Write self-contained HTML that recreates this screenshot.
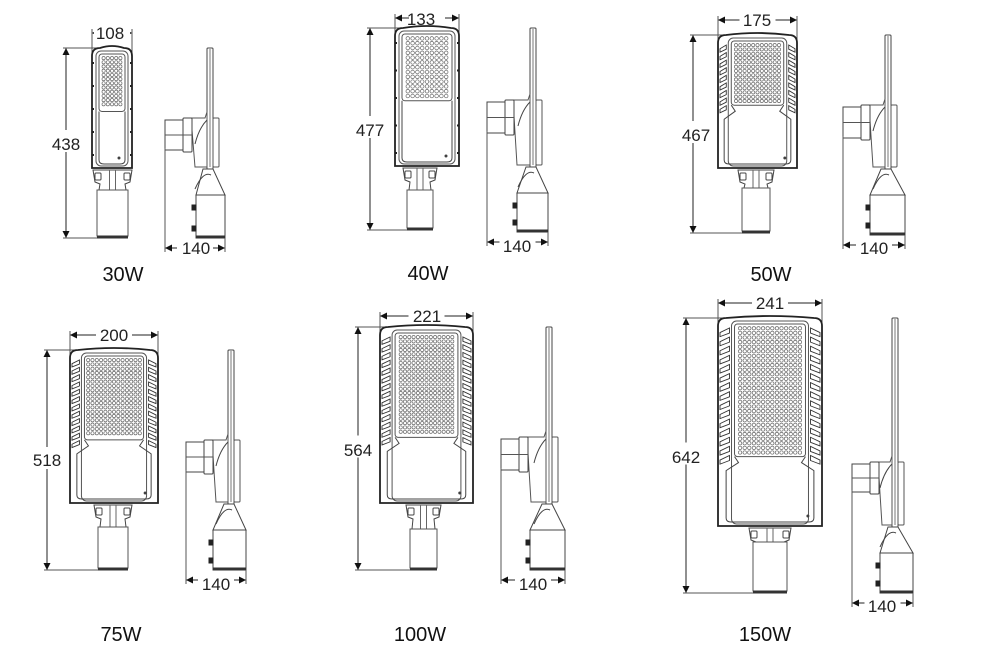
<!DOCTYPE html>
<html><head><meta charset="utf-8"><style>
html,body{margin:0;padding:0;background:#fff}
svg{display:block}
.d{font-family:"Liberation Sans",sans-serif;font-size:17px;fill:#222}
.c{font-family:"Liberation Sans",sans-serif;font-size:20px;fill:#111}
</style></head><body>
<svg id="s" width="991" height="655" viewBox="0 0 991 655" xmlns="http://www.w3.org/2000/svg">
<defs>
<marker id="a" viewBox="0 0 10 10" refX="10" refY="5" markerWidth="12" markerHeight="7" markerUnits="userSpaceOnUse" orient="auto-start-reverse"><path d="M0,0L10,5L0,10z" fill="#111"/></marker>
</defs>
<g id="g" fill="none" stroke="#444" stroke-width="1"></g>
<text class="d" x="110" y="39" text-anchor="middle">108</text>
<text class="d" x="66" y="150" text-anchor="middle">438</text>
<text class="d" x="196" y="254" text-anchor="middle">140</text>
<text class="c" x="123" y="281" text-anchor="middle">30W</text>
<text class="d" x="421" y="25" text-anchor="middle">133</text>
<text class="d" x="370" y="136" text-anchor="middle">477</text>
<text class="d" x="517" y="252" text-anchor="middle">140</text>
<text class="c" x="428" y="280" text-anchor="middle">40W</text>
<text class="d" x="757" y="26" text-anchor="middle">175</text>
<text class="d" x="696" y="141" text-anchor="middle">467</text>
<text class="d" x="874" y="254" text-anchor="middle">140</text>
<text class="c" x="771" y="281" text-anchor="middle">50W</text>
<text class="d" x="114" y="341" text-anchor="middle">200</text>
<text class="d" x="47" y="466" text-anchor="middle">518</text>
<text class="d" x="216" y="590" text-anchor="middle">140</text>
<text class="c" x="121" y="641" text-anchor="middle">75W</text>
<text class="d" x="427" y="322" text-anchor="middle">221</text>
<text class="d" x="358" y="456" text-anchor="middle">564</text>
<text class="d" x="533" y="590" text-anchor="middle">140</text>
<text class="c" x="420" y="641" text-anchor="middle">100W</text>
<text class="d" x="770" y="309" text-anchor="middle">241</text>
<text class="d" x="686" y="463" text-anchor="middle">642</text>
<text class="d" x="882" y="612" text-anchor="middle">140</text>
<text class="c" x="765" y="641" text-anchor="middle">150W</text>
</svg>
<script>
var g=document.getElementById('g'),h='';
function L(x1,y1,x2,y2,c,w){h+='<line x1="'+x1+'" y1="'+y1+'" x2="'+x2+'" y2="'+y2+'" stroke="'+(c||'#444')+'" stroke-width="'+(w||1)+'"/>';}
function R(x,y,w,hh,r,c,f){h+='<rect x="'+x+'" y="'+y+'" width="'+w+'" height="'+hh+'" rx="'+(r||0)+'" stroke="'+(c||'#444')+'" fill="'+(f||'none')+'"/>';}
function A(x1,y1,x2,y2){h+='<line x1="'+x1+'" y1="'+y1+'" x2="'+x2+'" y2="'+y2+'" stroke="#222" marker-start="url(#a)" marker-end="url(#a)"/>';}
function unit(o){
 var x0=o.x0,x1=o.x1,t=o.t,b=o.b,w=x1-x0;
 A(x0,o.wy,x1,o.wy); L(x0,o.wy-4,x0,t+10,'#555'); L(x1,o.wy-4,x1,t+10,'#555');
 A(o.hx,t,o.hx,o.pb); L(o.hx-3,t,x0+w/2,t,'#555'); L(o.hx-3,o.pb,o.p0,o.pb,'#555');
 h+='<rect x="'+(x0+w/2-18)+'" y="'+(o.wy-9)+'" width="36" height="18" fill="#fff" stroke="none"/>';
 h+='<rect x="'+(o.hx-18)+'" y="'+((t+o.pb)/2-13)+'" width="36" height="22" fill="#fff" stroke="none"/>';
 h+='<path d="M'+x0+','+(b-2)+' L'+x0+','+(t+8)+' Q'+x0+','+t+' '+(x0+8)+','+t+' Q'+(x0+w/2)+','+(t-4)+' '+(x1-8)+','+t+' Q'+x1+','+t+' '+x1+','+(t+8)+' L'+x1+','+(b-2)+' Z" stroke="#222" stroke-width="1.8" fill="#fff"/>';
 var fi=o.fin?Math.max(9,w*0.13):4;
 var lx0=x0+fi+3,lx1=x1-fi-3,ly0=t+6,ly1=t+(b-t)*o.led;
 R(x0+fi,t+3,w-2*fi,b-t-7,5,'#555');
 R(lx0,ly0,lx1-lx0,ly1-ly0,3,'#555');
 var st=o.ds||4.2,cols=Math.floor((lx1-lx0-3)/st),rows=Math.floor((ly1-ly0-3)/st);
 var ox=lx0+((lx1-lx0)-cols*st)/2+st/2,oy=ly0+2+st/2;
 for(var i=0;i<cols;i++)for(var j=0;j<rows;j++)h+='<circle cx="'+(ox+i*st).toFixed(1)+'" cy="'+(oy+j*st).toFixed(1)+'" r="'+(st*0.38).toFixed(1)+'" stroke="#666" stroke-width="0.7"/>';
 var dx0=o.fin?x0+fi*0.6:lx0,dx1=o.fin?x1-fi*0.6:lx1;
 h+='<path d="M'+lx0+','+ly1+' L'+(lx0+(o.fin?4:0))+','+(ly1+(o.fin?6:0))+' L'+dx0+','+(ly1+(o.fin?14:2))+' L'+dx0+','+(b-10)+' Q'+dx0+','+(b-6)+' '+(dx0+5)+','+(b-6)+' L'+(dx1-5)+','+(b-6)+' Q'+dx1+','+(b-6)+' '+dx1+','+(b-10)+' L'+dx1+','+(ly1+(o.fin?14:2))+' L'+(lx1-(o.fin?4:0))+','+(ly1+(o.fin?6:0))+' L'+lx1+','+ly1+'" stroke="#444"/>';
 h+='<circle cx="'+(dx1-6)+'" cy="'+(b-12)+'" r="1" fill="#333"/>';
 if(o.fin){var n=o.fin,fy0=t+10,fy1=ly1+8,sp=(fy1-fy0)/n;
  for(var k=0;k<n;k++){var y=fy0+k*sp;
   h+='<path d="M'+(x0+2)+','+(y+sp*0.5)+' L'+(x0+fi-2)+','+(y)+' L'+(x0+fi-2)+','+(y+sp*0.55)+' L'+(x0+2)+','+(y+sp*0.95)+'Z" stroke="#333" stroke-width="0.9"/>';
   h+='<path d="M'+(x1-2)+','+(y+sp*0.5)+' L'+(x1-fi+2)+','+(y)+' L'+(x1-fi+2)+','+(y+sp*0.55)+' L'+(x1-2)+','+(y+sp*0.95)+'Z" stroke="#333" stroke-width="0.9"/>';}}
 else{for(var k=0;k<5;k++){var y=t+15+k*(b-t-30)/4;L(x0,y,x0+2,y,'#222',2);L(x1-2,y,x1,y,'#222',2);}}
 var p0=o.p0,p1=o.p1,pm=(p0+p1)/2,nt=b+o.nk;
 h+='<path d="M'+(p0-4)+','+b+' L'+(p1+4)+','+b+' L'+(p1+2)+','+(b+12)+' L'+(p1-3)+','+(b+14)+' L'+(p1-2)+','+nt+' L'+(p0+2)+','+nt+' L'+(p0+3)+','+(b+14)+' L'+(p0-2)+','+(b+12)+'Z" stroke="#444" fill="#fff"/>';
 R(p0-2,b+3,6,7,1,'#444');R(p1-4,b+3,6,7,1,'#444');
 L(pm-3,b,pm-3,nt,'#666');L(pm+3,b,pm+3,nt,'#666');
 R(p0,nt,p1-p0,o.pb-nt-2,0,'#555','#fff');
 L(p0,o.pb-1,p1,o.pb-1,'#333',3);
 var sx=o.sx,bx=o.bx,by=o.by,sb=o.sb,bk0=o.bk0,bk1=o.bk1,st2=b-3;
 R(sx,t,6,st2-t+10,1,'#444','#fff');L(sx+3,t+1,sx+3,st2,'#777');
 R(sx+6,by,6,st2-by,1,'#555');
 h+='<path d="M'+(bx+26)+','+by+' L'+(sx-2)+','+by+' L'+(sx)+','+(by-6)+' L'+sx+','+st2+' L'+(bx+30)+','+st2+'Z" stroke="#555"/>';
 h+='<path d="M'+(sx)+','+(by+2)+' Q'+(sx-8)+','+(by+10)+' '+(sx-12)+','+(by+26)+'" stroke="#444"/>';
 R(bx,by+2,18,o.bh,0,'#444','#fff');R(bx+18,by,9,o.bh+4,1,'#444','#fff');
 L(bx,by+2+o.bh/2,bx+27,by+2+o.bh/2,'#555');
 var ct=st2+28;
 h+='<path d="M'+(sx-4)+','+(st2+2)+' L'+(sx+6)+','+(st2+2)+' L'+bk1+','+ct+' L'+bk0+','+ct+'Z" stroke="#444" fill="#fff"/>';
 h+='<path d="M'+(sx-12)+','+(ct-6)+' Q'+(sx-4)+','+(st2+4)+' '+(sx+4)+','+(st2+8)+'" stroke="#444"/>';
 R(bk0,ct,bk1-bk0,sb-ct,0,'#444','#fff');
 L(bk0,sb-1,bk1,sb-1,'#333',3);
 R(bk0-4,ct+10,4,5,0,'#222','#222');R(bk0-4,sb-12,4,5,0,'#222','#222');
 A(bx,sb+10,bk1,sb+10);L(bx,by+o.bh,bx,sb+14,'#555');L(bk1,sb,bk1,sb+14,'#555');
 h+='<rect x="'+((bx+bk1)/2-18)+'" y="'+(sb+2)+'" width="36" height="17" fill="#fff" stroke="none"/>';
}
unit({x0:92,x1:132,t:48,b:170,wy:33,hx:66,pb:238,p0:97,p1:128,nk:20,led:0.52,fin:0,ds:4.2,sx:207,bx:165,by:118,bh:30,bk0:196,bk1:225,sb:238});
unit({x0:395,x1:459,t:28,b:168,wy:18,hx:370,pb:230,p0:407,p1:433,nk:22,led:0.52,fin:0,ds:4.8,sx:530,bx:487,by:100,bh:31,bk0:517,bk1:548,sb:232});
unit({x0:718,x1:797,t:35,b:170,wy:20,hx:693,pb:233,p0:742,p1:770,nk:18,led:0.52,fin:9,ds:4.3,sx:885,bx:843,by:105,bh:31,bk0:870,bk1:905,sb:235});
unit({x0:70,x1:158,t:350,b:505,wy:335,hx:47,pb:570,p0:98,p1:128,nk:22,led:0.58,fin:12,ds:4.3,sx:228,bx:186,by:440,bh:30,bk0:213,bk1:246,sb:570});
unit({x0:380,x1:473,t:327,b:505,wy:316,hx:358,pb:570,p0:410,p1:437,nk:24,led:0.62,fin:14,ds:4.3,sx:546,bx:501,by:437,bh:31,bk0:530,bk1:565,sb:570});
unit({x0:718,x1:822,t:318,b:528,wy:303,hx:686,pb:593,p0:753,p1:787,nk:14,led:0.66,fin:15,ds:4.6,sx:892,bx:852,by:462,bh:28,bk0:880,bk1:913,sb:593});
g.innerHTML=h;
</script>
</body></html>
